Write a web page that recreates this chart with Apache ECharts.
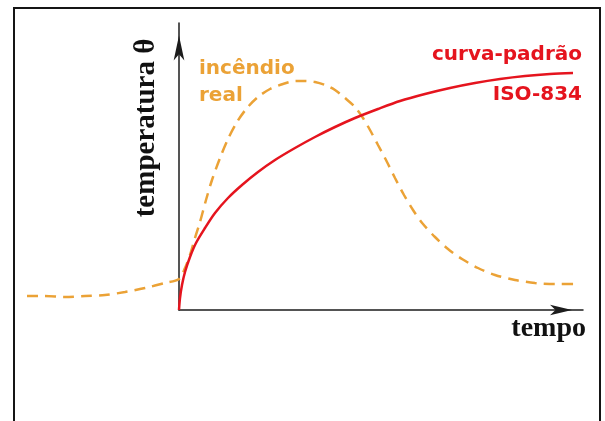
<!DOCTYPE html>
<html>
<head>
<meta charset="utf-8">
<script src="https://cdn.jsdelivr.net/npm/echarts@6/dist/echarts.min.js"></script>
<style>
  html, body { margin: 0; padding: 0; background: #ffffff; }
  #chart { width: 605px; height: 421px; }
</style>
</head>
<body>
<div id="chart"></div>
<script>
// Standard fire curve (ISO-834): time vs temperature, arbitrary units
const isoTempo = [0, 1, 3, 6, 11, 17, 26, 36, 49, 63, 79, 96, 116, 136, 156, 176, 199, 221, 246, 271, 296, 321, 346, 371, 394];
const isoTemp  = [0, 12, 25, 38, 53, 67, 82, 97, 112, 125, 138, 150, 162, 173, 183, 192, 201, 209, 216, 222, 227, 231, 234, 236, 237];

// Real fire: pre-flashover phase (negative time), growth, peak and decay
const realTempo = [-152, -134, -114, -94, -74, -54, -34, -14, 0, 6, 11, 16, 21, 27, 33, 41, 49, 58, 68, 79, 91, 104, 117, 126, 136, 146, 156, 166, 176, 184, 191, 199, 207, 216, 225, 234, 244, 256, 269, 283, 299, 316, 336, 356, 376, 399];
const realTemp  = [14, 14, 13, 14, 15, 18, 22, 27, 31, 42, 55, 72, 88, 110, 130, 152, 171, 188, 202, 213, 221, 226, 229, 229, 228, 225, 220, 212, 203, 192, 180, 165, 150, 132, 115, 100, 86, 73, 61, 51, 42, 35, 30, 27, 26, 26];

const zip = (xs, ys) => xs.map((x, i) => [x, ys[i]]);

const chart = echarts.init(document.getElementById('chart'), null, { renderer: 'canvas' });

const hidden = { show: false };
const axisLine = (arrowLen) => ({
  show: true,
  symbol: ['none', 'arrow'],
  symbolSize: [8, arrowLen],
  symbolOffset: [0, -arrowLen / 2],
  lineStyle: { color: '#1c1c1c', width: 1.5 }
});

// grid 0 holds the curves (time axis reaches back before ignition),
// grid 1 draws the visible axes starting at the origin
const tempoMin = -160, tempoMax = 404, tempMax = 287;

chart.setOption({
  animation: false,
  backgroundColor: '#ffffff',
  grid: [
    { left: 19, right: 22, top: 23, bottom: 111 },
    { left: 179, right: 22, top: 23, bottom: 111 }
  ],
  xAxis: [
    { type: 'value', gridIndex: 0, min: tempoMin, max: tempoMax, show: false },
    {
      type: 'value', gridIndex: 1, min: 0, max: tempoMax,
      axisLine: axisLine(22),
      axisTick: hidden, axisLabel: hidden, splitLine: hidden
    }
  ],
  yAxis: [
    { type: 'value', gridIndex: 0, min: 0, max: tempMax, show: false },
    {
      type: 'value', gridIndex: 1, min: 0, max: tempMax,
      axisLine: axisLine(25),
      axisTick: hidden, axisLabel: hidden, splitLine: hidden
    }
  ],
  series: [
    {
      name: 'incêndio real',
      type: 'line',
      xAxisIndex: 0, yAxisIndex: 0,
      data: zip(realTempo, realTemp),
      smooth: 0.3,
      showSymbol: false,
      clip: false,
      lineStyle: { color: '#EBA236', width: 2.5, type: [11, 7] },
      z: 2
    },
    {
      name: 'curva-padrão ISO-834',
      type: 'line',
      xAxisIndex: 0, yAxisIndex: 0,
      data: zip(isoTempo, isoTemp),
      smooth: 0.3,
      showSymbol: false,
      clip: false,
      lineStyle: { color: '#E5141E', width: 2.5 },
      z: 3
    }
  ],
  graphic: [
    {
      type: 'rect', silent: true,
      shape: { x: 14, y: 8, width: 586, height: 430 },
      style: { fill: 'none', stroke: '#151515', lineWidth: 2 }
    },
    {
      type: 'text', x: 147, y: 128, rotation: Math.PI / 2,
      style: { text: 'temperatura θ', font: 'bold 29px "Liberation Serif"', fill: '#111', align: 'center', verticalAlign: 'middle' }
    },
    {
      type: 'text', x: 586, y: 329,
      style: { text: 'tempo', font: 'bold 28px "Liberation Serif"', fill: '#111', align: 'right', verticalAlign: 'middle' }
    },
    {
      type: 'text', x: 199, y: 69,
      style: { text: 'incêndio', font: 'bold 20px "DejaVu Sans"', fill: '#EBA236', align: 'left', verticalAlign: 'middle' }
    },
    {
      type: 'text', x: 199, y: 96,
      style: { text: 'real', font: 'bold 20px "DejaVu Sans"', fill: '#EBA236', align: 'left', verticalAlign: 'middle' }
    },
    {
      type: 'text', x: 582, y: 55,
      style: { text: 'curva-padrão', font: 'bold 20px "DejaVu Sans"', fill: '#E5141E', align: 'right', verticalAlign: 'middle' }
    },
    {
      type: 'text', x: 582, y: 95,
      style: { text: 'ISO-834', font: 'bold 20px "DejaVu Sans"', fill: '#E5141E', align: 'right', verticalAlign: 'middle' }
    }
  ]
});
</script>
</body>
</html>
